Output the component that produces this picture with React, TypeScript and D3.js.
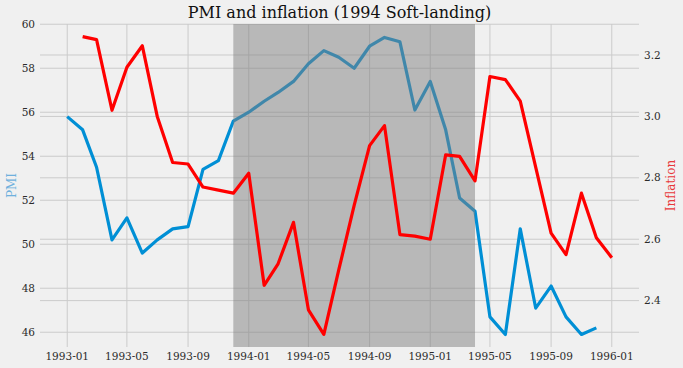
import React from 'react';
import * as d3 from 'd3';

// months 1993-01 .. 1996-01
const months = [
  '1993-01', '1993-02', '1993-03', '1993-04', '1993-05', '1993-06', '1993-07', '1993-08', '1993-09', '1993-10', '1993-11', '1993-12',
  '1994-01', '1994-02', '1994-03', '1994-04', '1994-05', '1994-06', '1994-07', '1994-08', '1994-09', '1994-10', '1994-11', '1994-12',
  '1995-01', '1995-02', '1995-03', '1995-04', '1995-05', '1995-06', '1995-07', '1995-08', '1995-09', '1995-10', '1995-11', '1995-12',
  '1996-01',
];

// PMI: 1993-01 .. 1995-12
const pmiMonths = months.slice(0, 36);
const pmi = [
  55.8, 55.2, 53.5, 50.2, 51.2, 49.6, 50.2, 50.7, 50.8, 53.4, 53.8, 55.6,
  56.0, 56.5, 56.9, 57.4, 58.2, 58.8, 58.5, 58.0, 59.0, 59.4, 59.2, 56.1,
  57.4, 55.2, 52.1, 51.5, 46.7, 45.9, 50.7, 47.1, 48.1, 46.7, 45.9, 46.2,
];

// inflation: 1993-02 .. 1996-01
const inflationMonths = months.slice(1);
const inflation = [
  3.26, 3.25, 3.02, 3.16, 3.23, 3.0, 2.85, 2.845, 2.77, 2.76, 2.75,
  2.815, 2.45, 2.52, 2.655, 2.37, 2.29, 2.5, 2.71, 2.905, 2.97, 2.615, 2.61,
  2.6, 2.875, 2.87, 2.79, 3.13, 3.12, 3.05, 2.835, 2.62, 2.55, 2.75, 2.605,
  2.54,
];

const xTicks = ['1993-01', '1993-05', '1993-09', '1994-01', '1994-05', '1994-09', '1995-01', '1995-05', '1995-09', '1996-01'];
const pmiTicks = [46, 48, 50, 52, 54, 56, 58, 60];
const inflationTicks = [2.4, 2.6, 2.8, 3.0, 3.2];
const span = ['1993-12', '1995-04'];

const W = 683;
const H = 368;
const left = 40;
const right = 639;
const top = 24;
const bottom = 347;
const FONT = '"DejaVu Serif", serif';

const parse = d3.timeParse('%Y-%m');

export default function App() {
  const first = parse(months[0]) as Date;
  const last = parse(months[months.length - 1]) as Date;
  const pad = (last.getTime() - first.getTime()) * 0.05;

  const x = d3.scaleTime()
    .domain([new Date(first.getTime() - pad), new Date(last.getTime() + pad)])
    .range([left, right]);
  const yL = d3.scaleLinear().domain([45.33, 60.01]).range([bottom, top]);
  const yR = d3.scaleLinear().domain([2.249, 3.301]).range([bottom, top]);

  const pmiLine = d3.line<number>()
    .x((d, i) => x(parse(pmiMonths[i]) as Date))
    .y(d => yL(d));
  const infLine = d3.line<number>()
    .x((d, i) => x(parse(inflationMonths[i]) as Date))
    .y(d => yR(d));

  const sx0 = x(parse(span[0]) as Date);
  const sx1 = x(parse(span[1]) as Date);

  return (
    <svg width={W} height={H} style={{ position: 'absolute', left: 0, top: 0, background: '#f0f0f0' }}>
      <rect x={0} y={0} width={W} height={H} fill="#f0f0f0" />
      {/* grids */}
      <g stroke="#cbcbcb" strokeWidth={1}>
        {xTicks.map(t => {
          const px = x(parse(t) as Date);
          return <line key={'vx' + t} x1={px} x2={px} y1={top} y2={bottom} />;
        })}
        {pmiTicks.map(t => (
          <line key={'gl' + t} x1={left} x2={right} y1={yL(t)} y2={yL(t)} />
        ))}
        {inflationTicks.map(t => (
          <line key={'gr' + t} x1={left} x2={right} y1={yR(t)} y2={yR(t)} />
        ))}
      </g>
      <path d={pmiLine(pmi) || ''} fill="none" stroke="#008fd5" strokeWidth={3.2} strokeLinejoin="round" />
      <rect x={sx0} y={top} width={sx1 - sx0} height={bottom - top} fill="#808080" fillOpacity={0.5} />
      <path d={infLine(inflation) || ''} fill="none" stroke="#ff0000" strokeWidth={3.2} strokeLinejoin="round" />

      <g fontFamily={FONT} fontSize={10.5} fill="#2b2b2b">
        {xTicks.map(t => (
          <text key={'xt' + t} x={x(parse(t) as Date)} y={360} textAnchor="middle">{t}</text>
        ))}
        {pmiTicks.map(t => (
          <text key={'lt' + t} x={35} y={yL(t)} dy="0.35em" textAnchor="end">{t}</text>
        ))}
        {inflationTicks.map(t => (
          <text key={'rt' + t} x={644} y={yR(t)} dy="0.35em" textAnchor="start">{t.toFixed(1)}</text>
        ))}
      </g>

      <text x={12} y={(top + bottom) / 2} transform={`rotate(-90 12 ${(top + bottom) / 2})`} dy="0.35em"
        textAnchor="middle" fontFamily={FONT} fontSize={12} fill="#6fb0dd">PMI</text>
      <text x={671} y={(top + bottom) / 2} transform={`rotate(-90 671 ${(top + bottom) / 2})`} dy="0.35em"
        textAnchor="middle" fontFamily={FONT} fontSize={12} fill="#e8383b">Inflation</text>

      <text x={(left + right) / 2} y={18} textAnchor="middle" fontFamily={FONT} fontSize={16} fill="#111">
        PMI and inflation (1994 Soft-landing)
      </text>
    </svg>
  );
}
